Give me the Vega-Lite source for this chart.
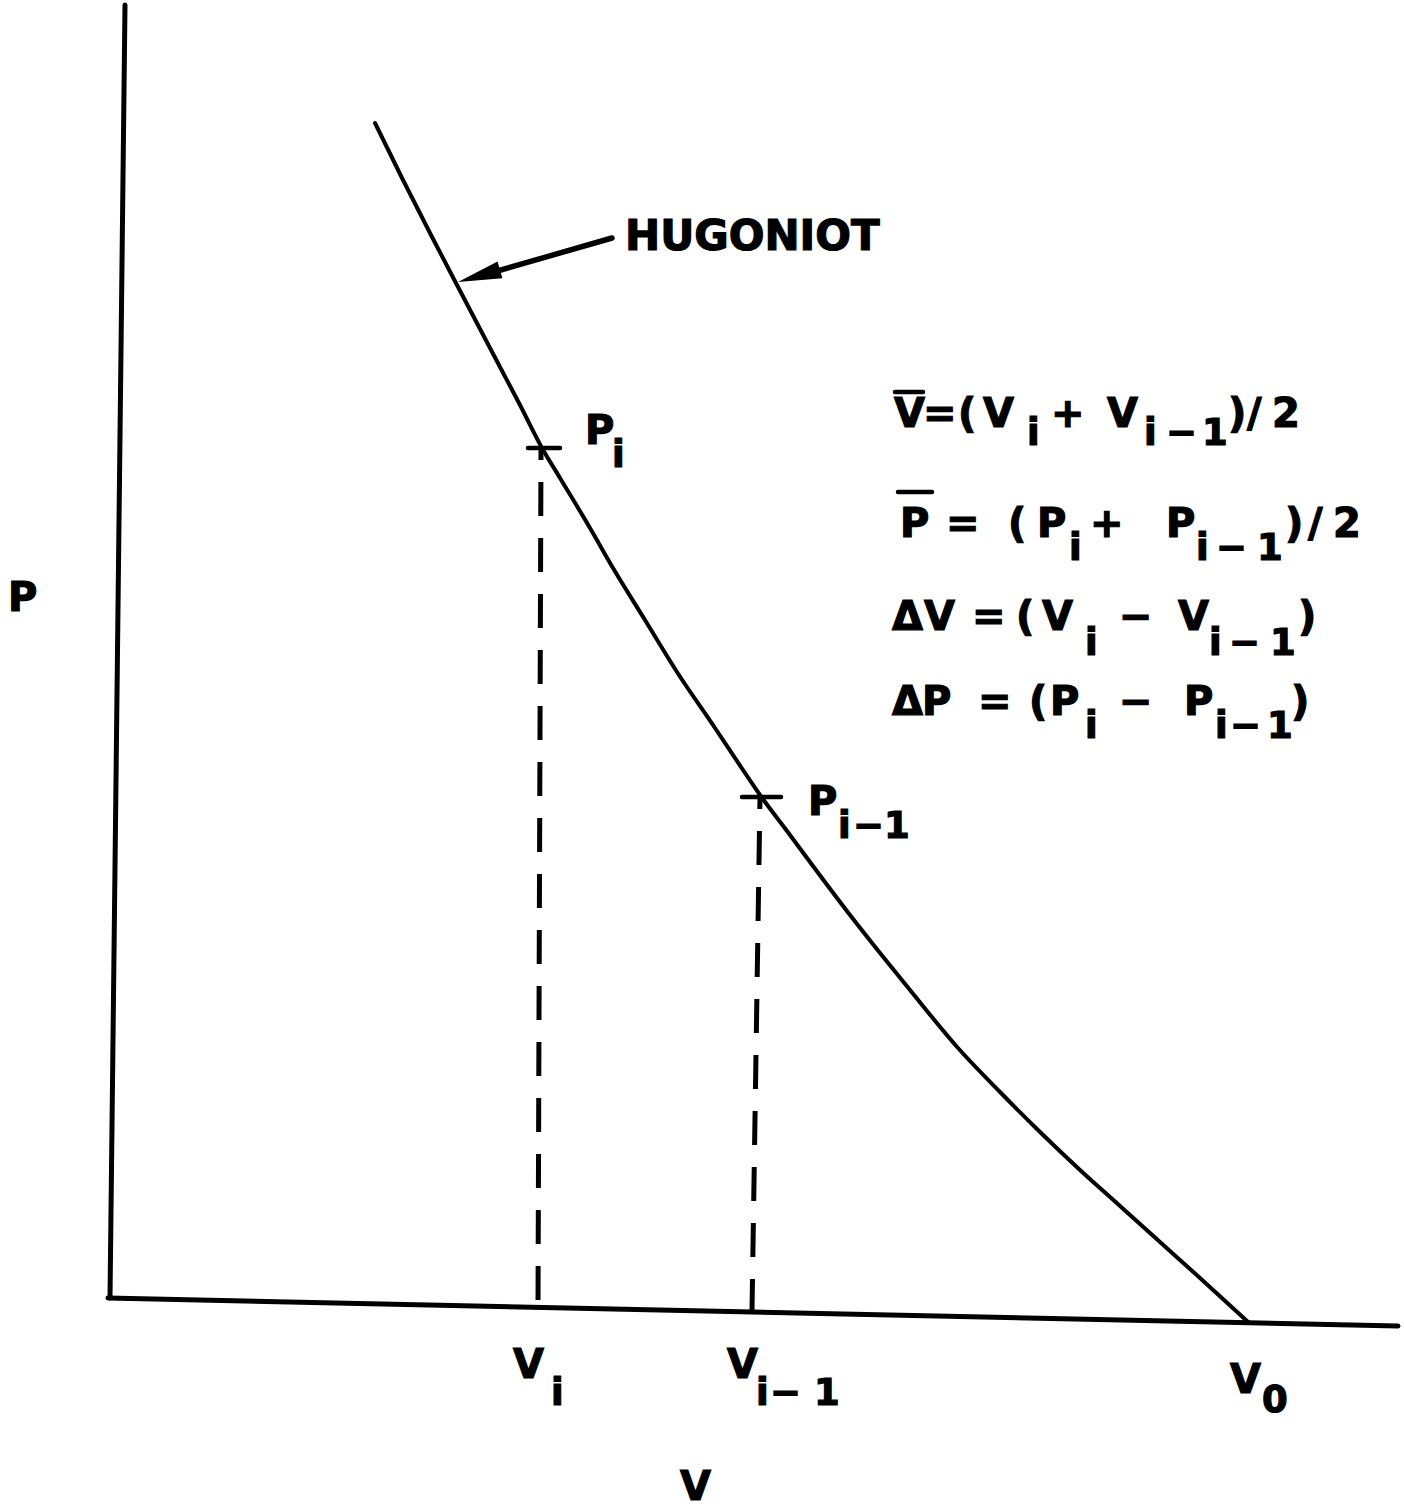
{
  "$schema": "https://vega.github.io/schema/vega-lite/v6.json",
  "width": 1404,
  "height": 1508,
  "padding": 0,
  "autosize": {"type": "fit", "contains": "padding"},
  "background": "white",
  "config": {"view": {"stroke": null}},
  "datasets": {
    "frame": [
      {"v": 125, "p": 1503, "v2": 110, "p2": 210},
      {"v": 108, "p": 210, "v2": 1398, "p2": 182}
    ],
    "hugoniot": [
      {"v": 375, "p": 1385}, {"v": 402, "p": 1330}, {"v": 431, "p": 1273},
      {"v": 457, "p": 1223}, {"v": 490, "p": 1160}, {"v": 520, "p": 1103},
      {"v": 542, "p": 1060}, {"v": 560, "p": 1030}, {"v": 590, "p": 980},
      {"v": 613, "p": 940}, {"v": 645, "p": 888}, {"v": 677, "p": 836},
      {"v": 715, "p": 780}, {"v": 745, "p": 735}, {"v": 760, "p": 713},
      {"v": 790, "p": 673}, {"v": 810, "p": 646}, {"v": 850, "p": 593},
      {"v": 880, "p": 555}, {"v": 910, "p": 518}, {"v": 958, "p": 460},
      {"v": 1000, "p": 416}, {"v": 1040, "p": 376}, {"v": 1080, "p": 338},
      {"v": 1120, "p": 302}, {"v": 1160, "p": 266}, {"v": 1200, "p": 230},
      {"v": 1248, "p": 186}
    ],
    "drops": [
      {"v": 541, "p": 1060, "v2": 538, "p2": 202},
      {"v": 760, "p": 711, "v2": 752, "p2": 197}
    ],
    "ticks": [
      {"v": 528, "p": 1060, "v2": 560, "p2": 1060},
      {"v": 742, "p": 711, "v2": 781, "p2": 711}
    ],
    "pointer": [{"v": 612, "p": 1270, "v2": 480, "p2": 1232}],
    "pointerHead": [{"v": 479, "p": 1232}],
    "overbars": [
      {"v": 895, "p": 1116, "v2": 923, "p2": 1116},
      {"v": 898, "p": 1016, "v2": 932, "p2": 1016}
    ],
    "callout": [{"text": "HUGONIOT", "v": 625, "p": 1258}],
    "axisNames": [
      {"text": "P", "v": 8, "p": 897},
      {"text": "V", "v": 680, "p": 8}
    ],
    "symbols": [
      {"text": "V", "v": 894, "p": 1081}, {"text": "=", "v": 923, "p": 1081},
      {"text": "(", "v": 958, "p": 1081}, {"text": "V", "v": 983, "p": 1081},
      {"text": "+", "v": 1051, "p": 1081}, {"text": "V", "v": 1107, "p": 1081},
      {"text": ")", "v": 1228, "p": 1081}, {"text": "/", "v": 1247, "p": 1081},
      {"text": "2", "v": 1272, "p": 1081},

      {"text": "P", "v": 900, "p": 971}, {"text": "=", "v": 946, "p": 971},
      {"text": "(", "v": 1008, "p": 971}, {"text": "P", "v": 1037, "p": 971},
      {"text": "+", "v": 1090, "p": 971}, {"text": "P", "v": 1166, "p": 971},
      {"text": ")", "v": 1285, "p": 971}, {"text": "/", "v": 1308, "p": 971},
      {"text": "2", "v": 1333, "p": 971},

      {"text": "Δ", "v": 892, "p": 878}, {"text": "V", "v": 924, "p": 878},
      {"text": "=", "v": 972, "p": 878}, {"text": "(", "v": 1016, "p": 878},
      {"text": "V", "v": 1042, "p": 878}, {"text": "−", "v": 1119, "p": 878},
      {"text": "V", "v": 1178, "p": 878}, {"text": ")", "v": 1298, "p": 878},

      {"text": "Δ", "v": 892, "p": 793}, {"text": "P", "v": 922, "p": 793},
      {"text": "=", "v": 978, "p": 793}, {"text": "(", "v": 1029, "p": 793},
      {"text": "P", "v": 1050, "p": 793}, {"text": "−", "v": 1119, "p": 793},
      {"text": "P", "v": 1184, "p": 793}, {"text": ")", "v": 1291, "p": 793},

      {"text": "P", "v": 585, "p": 1064},
      {"text": "P", "v": 808, "p": 693},

      {"text": "V", "v": 513, "p": 130},
      {"text": "V", "v": 727, "p": 130},
      {"text": "V", "v": 1230, "p": 115}
    ],
    "subscripts": [
      {"text": "i", "v": 1027, "p": 1063}, {"text": "i", "v": 1144, "p": 1063},
      {"text": "−", "v": 1166, "p": 1063}, {"text": "1", "v": 1202, "p": 1063},

      {"text": "i", "v": 1069, "p": 948}, {"text": "i", "v": 1196, "p": 948},
      {"text": "−", "v": 1216, "p": 948}, {"text": "1", "v": 1257, "p": 948},

      {"text": "i", "v": 1085, "p": 853}, {"text": "i", "v": 1209, "p": 853},
      {"text": "−", "v": 1229, "p": 853}, {"text": "1", "v": 1270, "p": 853},

      {"text": "i", "v": 1085, "p": 770}, {"text": "i", "v": 1215, "p": 770},
      {"text": "−", "v": 1230, "p": 770}, {"text": "1", "v": 1267, "p": 770},

      {"text": "i", "v": 612, "p": 1041},
      {"text": "i", "v": 838, "p": 670}, {"text": "−", "v": 853, "p": 670},
      {"text": "1", "v": 884, "p": 670},

      {"text": "i", "v": 551, "p": 103},
      {"text": "i", "v": 756, "p": 103}, {"text": "−", "v": 770, "p": 103},
      {"text": "1", "v": 814, "p": 103},
      {"text": "0", "v": 1262, "p": 96}
    ]
  },
  "encoding": {
    "x": {"field": "v", "type": "quantitative", "scale": {"domain": [0, 1404], "nice": false, "zero": false}, "axis": null},
    "y": {"field": "p", "type": "quantitative", "scale": {"domain": [0, 1508], "nice": false, "zero": false}, "axis": null}
  },
  "layer": [
    {
      "data": {"name": "frame"},
      "mark": {"type": "rule", "color": "black", "strokeWidth": 5, "strokeCap": "round"},
      "encoding": {"x2": {"field": "v2"}, "y2": {"field": "p2"}}
    },
    {
      "data": {"name": "hugoniot"},
      "mark": {"type": "line", "color": "black", "strokeWidth": 4, "strokeCap": "round", "interpolate": "monotone"},
      "encoding": {}
    },
    {
      "data": {"name": "drops"},
      "mark": {"type": "rule", "color": "black", "strokeWidth": 5, "strokeDash": [34, 22], "strokeDashOffset": 22},
      "encoding": {"x2": {"field": "v2"}, "y2": {"field": "p2"}}
    },
    {
      "data": {"name": "ticks"},
      "mark": {"type": "rule", "color": "black", "strokeWidth": 4.5, "strokeCap": "round"},
      "encoding": {"x2": {"field": "v2"}, "y2": {"field": "p2"}}
    },
    {
      "data": {"name": "pointer"},
      "mark": {"type": "rule", "color": "black", "strokeWidth": 5.5, "strokeCap": "round"},
      "encoding": {"x2": {"field": "v2"}, "y2": {"field": "p2"}}
    },
    {
      "data": {"name": "pointerHead"},
      "mark": {"type": "point", "filled": true, "color": "black", "opacity": 1, "shape": "M1,0L-1,-0.4L-1,0.4Z", "size": 1900, "angle": 164}
    },
    {
      "data": {"name": "overbars"},
      "mark": {"type": "rule", "color": "black", "strokeWidth": 4.5, "strokeCap": "round"},
      "encoding": {"x2": {"field": "v2"}, "y2": {"field": "p2"}}
    },
    {
      "data": {"name": "callout"},
      "mark": {"type": "text", "font": "DejaVu Sans", "fontWeight": "bold", "fontSize": 42, "align": "left", "baseline": "alphabetic", "color": "black", "stroke": "black", "strokeWidth": 1.2},
      "encoding": {"text": {"field": "text"}}
    },
    {
      "data": {"name": "axisNames"},
      "mark": {"type": "text", "font": "DejaVu Sans", "fontWeight": "bold", "fontSize": 40, "align": "left", "baseline": "alphabetic", "color": "black", "stroke": "black", "strokeWidth": 1.2},
      "encoding": {"text": {"field": "text"}}
    },
    {
      "data": {"name": "symbols"},
      "mark": {"type": "text", "font": "DejaVu Sans", "fontWeight": "bold", "fontSize": 40, "align": "left", "baseline": "alphabetic", "color": "black", "stroke": "black", "strokeWidth": 1.2},
      "encoding": {"text": {"field": "text"}}
    },
    {
      "data": {"name": "subscripts"},
      "mark": {"type": "text", "font": "DejaVu Sans", "fontWeight": "bold", "fontSize": 37, "align": "left", "baseline": "alphabetic", "color": "black", "stroke": "black", "strokeWidth": 1.2},
      "encoding": {"text": {"field": "text"}}
    }
  ]
}
